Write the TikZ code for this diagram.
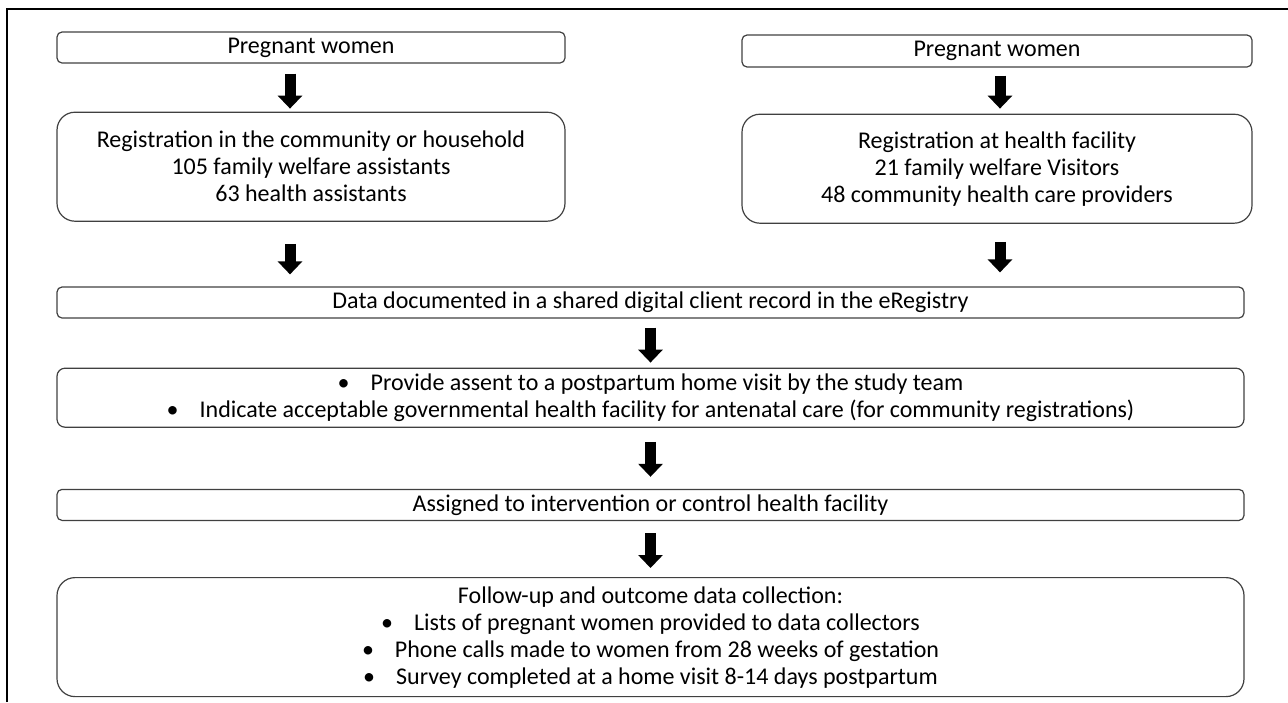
\documentclass[tikz,border=0pt]{standalone}
\usepackage{fontspec}
\setmainfont{Carlito}
\usetikzlibrary{arrows.meta,positioning}

\begin{document}
\begin{tikzpicture}[
    x=1pt,y=1pt,
    node distance=48pt,
    box/.style={draw=black!75,line width=1.2pt,rounded corners=5pt,inner sep=0pt,
      align=center,text=black,font=\fontsize{24}{27}\selectfont},
    bigbox/.style={box,rounded corners=18pt},
    arrow/.style={-{Triangle[width=24pt,length=13pt]},draw=black,line width=11pt}
  ]
    \useasboundingbox (0,0) rectangle (1288,-702);
    % frame of the page
    \draw[line width=1.5pt] (7,-702) -- (7,-9) -- (1288,-9);

    \node[box,minimum width=508pt,minimum height=31pt] (pwcom) at (311,-47.5) {Pregnant women};
    \node[bigbox,minimum width=508pt,minimum height=109pt,below=48pt of pwcom] (regcom)
      {Registration in the community or household\\105 family welfare assistants\\63 health assistants};
    \node[box,minimum width=510pt,minimum height=32pt] (pwfac) at (997,-51) {Pregnant women};
    \node[bigbox,minimum width=510pt,minimum height=109pt,below=46pt of pwfac] (regfac)
      {Registration at health facility\\21 family welfare Visitors\\48 community health care providers};
    \node[box,minimum width=1187pt,minimum height=31pt] (record) at (650.5,-302.5)
      {Data documented in a shared digital client record in the eRegistry};
    \node[box,rounded corners=8pt,minimum width=1187pt,minimum height=59pt,below=49pt of record] (assent)
      {\textbullet\hspace{21pt}Provide assent to a postpartum home visit by the study team\\
       \textbullet\hspace{21pt}Indicate acceptable governmental health facility for antenatal care (for community registrations)};
    \node[box,minimum width=1187pt,minimum height=31pt,below=61pt of assent] (assign)
      {Assigned to intervention or control health facility};
    \node[bigbox,minimum width=1187pt,minimum height=119pt,below=56pt of assign] (follow)
      {Follow-up and outcome data collection:\\
       \textbullet\hspace{21pt}Lists of pregnant women provided to data collectors\\
       \textbullet\hspace{21pt}Phone calls made to women from 28 weeks of gestation\\
       \textbullet\hspace{21pt}Survey completed at a home visit 8-14 days postpartum};

    \draw[arrow,shorten <=10pt,shorten >=3pt] ([xshift=-21pt]pwcom.south) -- ([xshift=-21pt]regcom.north);
    \draw[arrow,shorten <=8pt,shorten >=5pt] ([xshift=3pt]pwfac.south) -- ([xshift=3pt]regfac.north);
    \draw[arrow,shorten <=22pt,shorten >=12pt] ([xshift=-21pt]regcom.south) -- ([xshift=-21pt]regcom.south |- record.north);
    \draw[arrow,shorten <=18pt,shorten >=14pt] ([xshift=3pt]regfac.south) -- ([xshift=3pt]regfac.south |- record.north);
    \draw[arrow,shorten <=9pt,shorten >=5pt] (record) -- (assent);
    \draw[arrow,shorten <=14pt,shorten >=12pt] (assent) -- (assign);
    \draw[arrow,shorten <=12pt,shorten >=9pt] (assign) -- (follow);
  \end{tikzpicture}
\end{document}
